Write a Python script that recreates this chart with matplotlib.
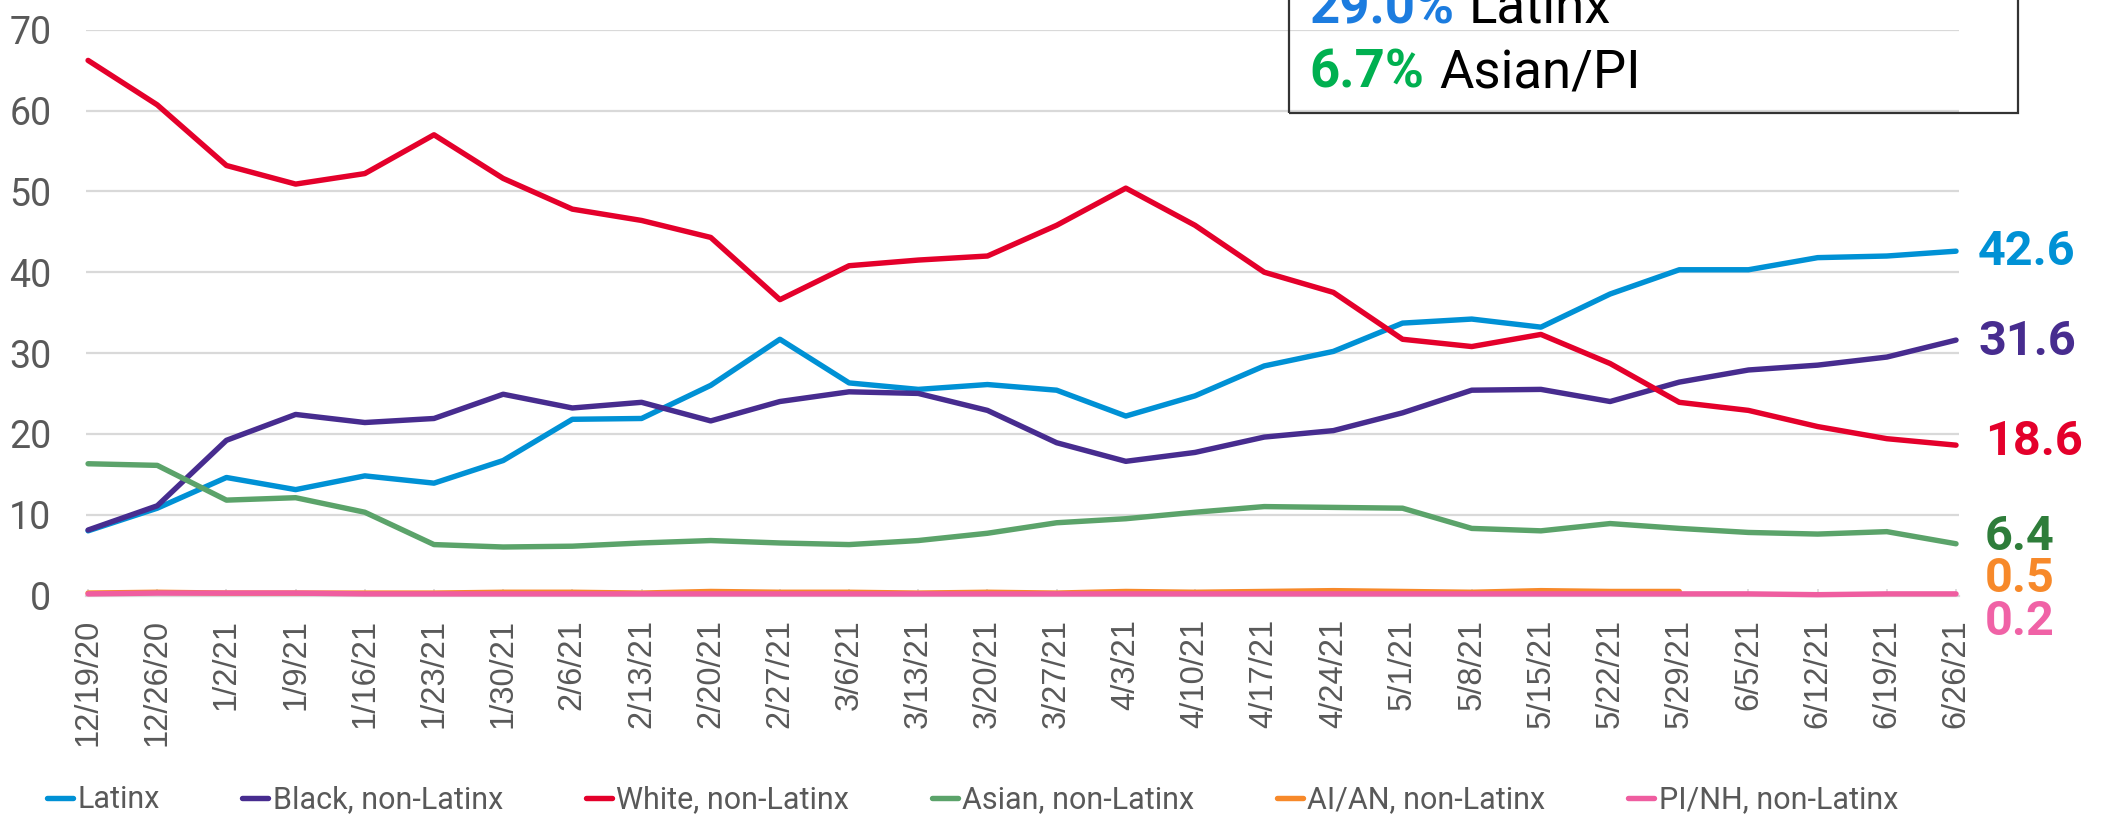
import numpy as np
import matplotlib
matplotlib.use('Agg')
import matplotlib.pyplot as plt
from matplotlib.patches import Rectangle

# weekly share (%) by race/ethnicity
dates = ['12/19/20', '12/26/20', '1/2/21', '1/9/21', '1/16/21', '1/23/21', '1/30/21',
         '2/6/21', '2/13/21', '2/20/21', '2/27/21', '3/6/21', '3/13/21', '3/20/21',
         '3/27/21', '4/3/21', '4/10/21', '4/17/21', '4/24/21', '5/1/21', '5/8/21',
         '5/15/21', '5/22/21', '5/29/21', '6/5/21', '6/12/21', '6/19/21', '6/26/21']

latinx = [8.0, 10.8, 14.6, 13.1, 14.8, 13.9, 16.7, 21.8, 21.9, 26.0, 31.7, 26.3, 25.5, 26.1,
          25.4, 22.2, 24.7, 28.4, 30.2, 33.7, 34.2, 33.2, 37.3, 40.3, 40.3, 41.8, 42.0, 42.6]
black = [8.1, 11.1, 19.2, 22.4, 21.4, 21.9, 24.9, 23.2, 23.9, 21.6, 24.0, 25.2, 25.0, 22.9,
         18.9, 16.6, 17.7, 19.6, 20.4, 22.6, 25.4, 25.5, 24.0, 26.4, 27.9, 28.5, 29.5, 31.6]
white = [66.2, 60.7, 53.2, 50.9, 52.2, 57.0, 51.6, 47.8, 46.4, 44.3, 36.6, 40.8, 41.5, 42.0,
         45.8, 50.4, 45.8, 40.0, 37.5, 31.7, 30.8, 32.3, 28.7, 23.9, 22.9, 20.9, 19.4, 18.6]
asian = [16.3, 16.1, 11.8, 12.1, 10.3, 6.3, 6.0, 6.1, 6.5, 6.8, 6.5, 6.3, 6.8, 7.7,
         9.0, 9.5, 10.3, 11.0, 10.9, 10.8, 8.3, 8.0, 8.9, 8.3, 7.8, 7.6, 7.9, 6.4]
aian = [0.3, 0.4, 0.3, 0.3, 0.3, 0.3, 0.4, 0.4, 0.3, 0.5, 0.4, 0.4, 0.3, 0.4,
        0.3, 0.5, 0.4, 0.5, 0.6, 0.5, 0.4, 0.6, 0.5, 0.5, np.nan, np.nan, np.nan, np.nan]
pinh = [0.2, 0.3, 0.3, 0.3, 0.2, 0.2, 0.2, 0.2, 0.2, 0.2, 0.2, 0.2, 0.2, 0.2,
        0.2, 0.2, 0.2, 0.2, 0.2, 0.2, 0.2, 0.2, 0.2, 0.2, 0.2, 0.1, 0.2, 0.2]

names = ['Latinx', 'Black, non-Latinx', 'White, non-Latinx', 'Asian, non-Latinx',
         'AI/AN, non-Latinx', 'PI/NH, non-Latinx']
end_labels = ['42.6', '31.6', '18.6', '6.4', '0.5', '0.2']

line_colors = ['#0091D5', '#472C8F', '#E4002B', '#5BA36A', '#F7892A', '#EF5DA0']
label_colors = ['#0091D5', '#472C8F', '#E4002B', '#2E7D3A', '#F7892A', '#F062A6']
label_y = [40.85, 29.7, 17.4, 5.6, 0.47, -4.9]   # baselines of end labels
label_x = [27.32, 27.32, 27.42, 27.42, 27.42, 27.42]

W, H = 2105, 817
plt.rcParams['font.family'] = ['Roboto', 'DejaVu Sans']

fig = plt.figure(figsize=(W / 100, H / 100), dpi=100)
ax = fig.add_axes([86 / W, 1 - 595.5 / H, (1959 - 86) / W, (595.5 - 29.7) / H])

x = np.arange(len(dates))
series = [latinx, black, white, asian, aian, pinh]
handles = []
for vals, name, col in zip(series, names, line_colors):
    h, = ax.plot(x, vals, color=col, lw=3.9, solid_capstyle='round',
                 solid_joinstyle='round', label=name, clip_on=False, zorder=3)
    handles.append(h)

for txt, yy, xx, col in zip(end_labels, label_y, label_x, label_colors):
    ax.text(xx, yy, txt, color=col, fontsize=35, fontweight='bold',
            va='baseline', ha='left', clip_on=False)

ax.set_xlim(-0.03, 27.043)
ax.set_ylim(0, 70)
ax.set_yticks(range(0, 71, 10))
ax.set_xticks(x)
ax.set_xticklabels(dates, rotation=90, fontsize=23.5, color='#595959',
                   family='Liberation Sans')
ax.tick_params(axis='y', length=0, pad=25, labelsize=27, labelcolor='#595959')
ax.tick_params(axis='x', direction='in', length=5, width=1.2, color='#D9D9D9', pad=17)
ax.grid(axis='y', color='#D9D9D9', lw=1.6)
ax.set_axisbelow(True)
for s in ['top', 'right', 'left']:
    ax.spines[s].set_visible(False)
ax.spines['bottom'].set_color('#D9D9D9')
ax.spines['bottom'].set_linewidth(1.6)

fig.legend(handles, names, loc='center left', bbox_to_anchor=(47 / W, 1 - 800 / H),
           ncol=6, frameon=False, fontsize=22, labelcolor='#595959',
           handlelength=0.85, handletextpad=0.15, columnspacing=2.7,
           borderpad=0, borderaxespad=0)

# callout box at the top right (its top runs off the figure)
fig.patches.append(Rectangle((1289 / W, 1 - 112.7 / H), (2018 - 1289) / W, 0.3,
                             transform=fig.transFigure, fill=False,
                             edgecolor='#333333', lw=1.6))
fig.text(1309 / W, 1 - 24 / H, '29.0%', color='#1C7CDF', fontsize=38,
         fontweight='bold', va='baseline')
fig.text(1469 / W, 1 - 24 / H, 'Latinx', color='black', fontsize=38, va='baseline')
fig.text(1309 / W, 1 - 88 / H, '6.7%', color='#00B050', fontsize=38,
         fontweight='bold', va='baseline')
fig.text(1439 / W, 1 - 88 / H, 'Asian/PI', color='black', fontsize=38, va='baseline')

fig.savefig('out.png', dpi=100)
